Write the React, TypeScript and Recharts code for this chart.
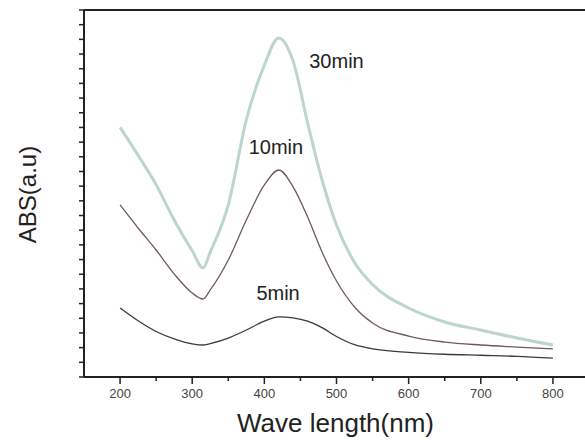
import React from 'react';
import { LineChart, Line, XAxis, YAxis, ReferenceLine, ReferenceDot } from 'recharts';

const wavelengths = [200, 225, 250, 275, 300, 315, 325, 350, 375, 400, 420, 440, 460, 480, 500, 525, 550, 600, 650, 700, 750, 800];
const abs30 = [1.70, 1.51, 1.31, 1.07, 0.86, 0.742, 0.851, 1.172, 1.751, 2.125, 2.31, 2.15, 1.73, 1.342, 1.035, 0.78, 0.63, 0.470, 0.375, 0.320, 0.266, 0.218];
const abs10 = [1.172, 1.015, 0.865, 0.702, 0.572, 0.531, 0.593, 0.797, 1.069, 1.308, 1.41, 1.294, 1.09, 0.851, 0.654, 0.477, 0.368, 0.279, 0.238, 0.218, 0.204, 0.191];
const abs5 = [0.47, 0.383, 0.31, 0.26, 0.226, 0.218, 0.228, 0.265, 0.32, 0.38, 0.41, 0.403, 0.38, 0.336, 0.276, 0.22, 0.192, 0.168, 0.155, 0.148, 0.141, 0.129];

const xTicks = [200, 250, 300, 350, 400, 450, 500, 550, 600, 650, 700, 750, 800];
const xLabelTicks = [200, 300, 400, 500, 600, 700, 800];
const yTicks = Array.from({ length: 26 }, (_, i) => Math.round(i * 10) / 100);

const curveLabels = [
  { name: '30min', x: 500, y: 2.15 },
  { name: '10min', x: 416, y: 1.57 },
  { name: '5min', x: 419, y: 0.575 },
];

const data = wavelengths.map((w, i) => ({ w, a30: abs30[i], a10: abs10[i], a5: abs5[i] }));

const FONT = '"Liberation Sans", Arial, sans-serif';

const XTick = (props: any) => {
  const { x, y, payload } = props;
  const major = xLabelTicks.includes(payload.value);
  return (
    <g>
      <line x1={x} x2={x} y1={y - 1} y2={y + (major ? 7 : 4)} stroke="#222" strokeWidth={1.5} />
      {major && (
        <text x={x} y={y + 21} textAnchor="middle" fontSize={13} fontFamily={FONT} fill="#444">
          {payload.value}
        </text>
      )}
    </g>
  );
};

const YTick = (props: any) => {
  const { x, y } = props;
  return <line x1={x - 5} x2={x} y1={y} y2={y} stroke="#222" strokeWidth={1.5} />;
};

export default function App() {
  return (
    <div style={{ position: 'absolute', left: 0, top: 0, width: 585, height: 447, overflow: 'hidden', background: '#fff' }}>
      <LineChart width={600} height={447} data={data} margin={{ top: 10, right: 11, left: 30, bottom: 30 }}>
        <XAxis
          dataKey="w"
          type="number"
          domain={[150, 850]}
          ticks={xTicks}
          interval={0}
          tickSize={0}
          tickMargin={0}
          tick={<XTick />}
          tickLine={false}
          axisLine={{ stroke: '#222', strokeWidth: 2 }}
          height={40}
          label={{
            content: (p: any) => {
              const vb = p.viewBox;
              return (
                <text x={vb.x + vb.width / 2 - 1} y={vb.y + 55} textAnchor="middle" fontSize={26} fontFamily={FONT} fill="#222">
                  Wave length(nm)
                </text>
              );
            },
          }}
        />
        <YAxis
          type="number"
          domain={[0, 2.5]}
          ticks={yTicks}
          interval={0}
          tickSize={0}
          tickMargin={0}
          tick={<YTick />}
          tickLine={false}
          axisLine={{ stroke: '#222', strokeWidth: 2 }}
          width={54}
          label={{
            content: (p: any) => {
              const vb = p.viewBox;
              const cx = 27;
              const cy = vb.y + vb.height / 2 + 1;
              return (
                <text x={cx} y={cy} transform={`rotate(-90 ${cx} ${cy})`} textAnchor="middle" dominantBaseline="central" fontSize={24} fontFamily={FONT} fill="#222">
                  ABS(a.u)
                </text>
              );
            },
          }}
        />
        <ReferenceLine y={2.5} stroke="#222" strokeWidth={2} />
        <Line type="monotone" dataKey="a30" stroke="#bdd5cf" strokeWidth={3} dot={false} isAnimationActive={false} />
        <Line type="monotone" dataKey="a10" stroke="#6e5a5a" strokeWidth={1.3} dot={false} isAnimationActive={false} />
        <Line type="monotone" dataKey="a5" stroke="#3e3838" strokeWidth={1.3} dot={false} isAnimationActive={false} />
        {curveLabels.map((c) => (
          <ReferenceDot
            key={c.name}
            x={c.x}
            y={c.y}
            r={0}
            fill="none"
            stroke="none"
            label={{ value: c.name, position: 'center', fontSize: 20, fontFamily: FONT, fill: '#222' }}
          />
        ))}
      </LineChart>
    </div>
  );
}
